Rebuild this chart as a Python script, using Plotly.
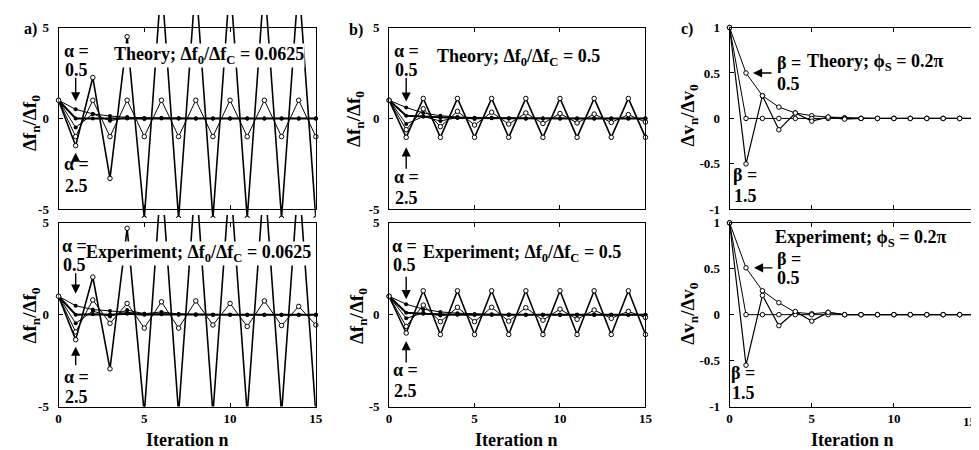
import plotly.graph_objects as go

W, H = 979, 450
FONT = "Liberation Serif"

ITER = list(range(16))

# a) theory, Δf0/ΔfC = 0.0625, alpha = 0.5 ... 2.5
A_TH_05 = [1, 0.5, 0.25, 0.13, 0.06, 0.03, 0.02, 0.01, 0, 0, 0, 0, 0, 0, 0, 0]
A_TH_10 = [1, 0, 0, 0, 0, 0, 0, 0, 0, 0, 0, 0, 0, 0, 0, 0]
A_TH_15 = [1, -0.5, 0.25, -0.13, 0.06, -0.03, 0.02, -0.01, 0, 0, 0, 0, 0, 0, 0, 0]
A_TH_20 = [1, -1, 1, -1, 1, -1, 1, -1, 1, -1, 1, -1, 1, -1, 1, -1]
A_TH_25 = [1, -1.5, 2.25, -3.3, 4.5, -5.5, 7.6, -5.5, 7.6, -5.5, 7.6, -5.5, 7.6, -5.5, 7.6, -5.5]

# a) experiment
A_EX_05 = [1, 0.49, 0.28, 0.2, 0.1, 0.05, 0.03, 0.02, 0, 0, 0, 0, 0, 0, 0, 0]
A_EX_10 = [1, 0, 0.02, 0, 0.05, 0, 0.02, 0, 0, 0, 0, 0, 0, 0, 0, 0]
A_EX_15 = [1, -0.47, 0.2, -0.1, 0.25, 0.05, 0.15, 0.03, 0.02, 0, 0, 0, 0, 0, 0, 0]
A_EX_20 = [1, -0.94, 0.8, -0.47, 0.61, -0.73, 0.7, -0.73, 0.75, -0.56, 0.61, -0.64, 0.75, -0.59, 0.45, -0.56]
A_EX_25 = [1, -1.36, 2.05, -2.95, 4.7, -5.4, 7.6, -5.4, 7.6, -5.4, 7.6, -5.4, 7.6, -5.4, 7.6, -5.4]

# b) theory, Δf0/ΔfC = 0.5
B_TH_05 = [1, 0.6, 0.3, 0.15, 0.08, 0.04, 0.02, 0.01, 0, 0, 0, 0, 0, 0, 0, 0]
B_TH_10 = [1, 0.15, 0.1, 0.05, 0.03, 0.02, 0.01, 0, 0, 0, 0, 0, 0, 0, 0, 0]
B_TH_15 = [1, -0.3, 0.1, -0.14, 0.05, -0.03, 0.02, -0.01, 0, 0, 0, 0, 0, 0, 0, 0]
B_TH_20 = [1, -0.62, 0.53, -0.45, 0.39, -0.36, 0.34, -0.31, 0.3, -0.28, 0.27, -0.25, 0.24, -0.22, 0.21, -0.2]
B_TH_25 = [1, -1.04, 1.1, -1.04, 1.1, -1.04, 1.1, -1.04, 1.1, -1.04, 1.1, -1.04, 1.1, -1.04, 1.1, -1.04]

# b) experiment
B_EX_05 = [1, 0.57, 0.3, 0.15, 0.08, 0.04, 0.02, 0.01, 0, 0, 0, 0, 0, 0, 0, 0]
B_EX_10 = [1, 0.1, 0.05, 0.02, 0, 0, 0, 0, 0, 0, 0, 0, 0, 0, 0, 0]
B_EX_15 = [1, -0.2, 0.1, -0.05, 0.02, 0, 0, 0, 0, 0, 0, 0, 0, 0, 0, 0]
B_EX_20 = [1, -0.64, 0.52, -0.38, 0.4, -0.38, 0.4, -0.35, 0.38, -0.3, 0.3, -0.25, 0.25, -0.2, 0.18, -0.15]
B_EX_25 = [1, -1.0, 1.3, -1.08, 1.3, -1.08, 1.3, -1.08, 1.3, -1.08, 1.3, -1.08, 1.3, -1.08, 1.3, -1.08]

# c) theory, phiS = 0.2 pi, beta = 0.5, 1.0, 1.5
C_TH_05 = [1, 0.5, 0.25, 0.125, 0.06, 0.03, 0.015, 0.008, 0, 0, 0, 0, 0, 0, 0, 0]
C_TH_10 = [1, 0, 0, 0, 0, 0, 0, 0, 0, 0, 0, 0, 0, 0, 0, 0]
C_TH_15 = [1, -0.5, 0.25, -0.125, 0.06, -0.03, 0.015, -0.008, 0, 0, 0, 0, 0, 0, 0, 0]

# c) experiment
C_EX_05 = [1, 0.51, 0.26, 0.13, 0.025, 0.01, 0.025, 0, 0, 0, 0, 0, 0, 0, 0, 0]
C_EX_10 = [1, 0, 0, 0, 0, 0, 0, 0, 0, 0, 0, 0, 0, 0, 0, 0]
C_EX_15 = [1, -0.55, 0.21, -0.12, 0.035, -0.07, 0.025, 0, 0, 0, 0, 0, 0, 0, 0, 0]

X_TICKS = [0, 5, 10, 15]
X_TICK_TEXT = ["0", "5", "10", "15"]
F_TICKS = [-5, 0, 5]
F_TICK_TEXT = ["-5", "0", "5"]
V_TICKS = [-1, -0.5, 0, 0.5, 1]
V_TICK_TEXT = ["-1", "-0.5", "0", "0.5", "1"]

# frame positions in pixels
COL_PX = [(48, 308), (382, 641), (726, 975)]
ROW_PX = [(13, 201), (215, 405)]
# the diverging alpha = 2.5 curve in a) runs past the frame, as in the print
OVERFLOW_PX = [(0, 210), (207, 405)]

# (width, filled) for alpha = 0.5, 1.0, 1.5, 2.0, 2.5
ALPHA_STYLE = [(1, True), (2, True), (1, True), (1, False), (1.6, False)]
BETA_STYLE = [(1, False), (1, False), (1.2, False)]


def fx(px):
    return px / W


def fy(py):
    return 1 - py / H


def add_curve(fig, xa, ya, values, width, filled, clip=False):
    if filled:
        marker = dict(symbol="circle", size=4, color="black")
    else:
        marker = dict(symbol="circle", size=4.5, color="white", line=dict(color="black", width=1))
    fig.add_trace(
        go.Scatter(
            x=ITER,
            y=values,
            mode="lines+markers",
            line=dict(color="black", width=width),
            marker=marker,
            xaxis=xa,
            yaxis=ya,
            showlegend=False,
            cliponaxis=clip,
        )
    )


fig = go.Figure()

panels = [
    (0, 0, [A_TH_05, A_TH_10, A_TH_15, A_TH_20, A_TH_25], ALPHA_STYLE),
    (0, 1, [B_TH_05, B_TH_10, B_TH_15, B_TH_20, B_TH_25], ALPHA_STYLE),
    (0, 2, [C_TH_05, C_TH_10, C_TH_15], BETA_STYLE),
    (1, 0, [A_EX_05, A_EX_10, A_EX_15, A_EX_20, A_EX_25], ALPHA_STYLE),
    (1, 1, [B_EX_05, B_EX_10, B_EX_15, B_EX_20, B_EX_25], ALPHA_STYLE),
    (1, 2, [C_EX_05, C_EX_10, C_EX_15], BETA_STYLE),
]

tickfont = dict(family=FONT, size=13, color="black", weight="bold")
layout_axes = {}

for row, col, series, styles in panels:
    k = row * 3 + col + 1
    xa = "x" if k == 1 else f"x{k}"
    ya = "y" if k == 1 else f"y{k}"
    x0, x1 = COL_PX[col]
    y0, y1 = ROW_PX[row]
    is_v = col == 2
    for i, (vals, (w, filled)) in enumerate(zip(series, styles)):
        if col == 0 and i == 4:
            n = 7 + row
            add_curve(fig, f"x{n}", f"y{n}", vals, w, filled, clip=True)
        else:
            add_curve(fig, xa, ya, vals, w, filled)

    # last label of panel c sits on the page edge; it is placed separately
    xtext = X_TICK_TEXT[:-1] + [""] if is_v else X_TICK_TEXT
    layout_axes["xaxis" if k == 1 else f"xaxis{k}"] = dict(
        domain=[fx(x0), fx(x1)],
        range=[0, 15],
        anchor=ya,
        showline=True,
        linecolor="black",
        linewidth=1,
        mirror="allticks",
        ticks="inside",
        ticklen=4,
        tickcolor="black",
        tickvals=X_TICKS,
        ticktext=xtext,
        showticklabels=(row == 1),
        tickfont=tickfont,
        showgrid=False,
        zeroline=False,
    )
    layout_axes["yaxis" if k == 1 else f"yaxis{k}"] = dict(
        domain=[fy(y1), fy(y0)],
        range=[-1, 1] if is_v else [-5, 5],
        anchor=xa,
        showline=True,
        linecolor="black",
        linewidth=1,
        mirror="allticks",
        ticks="inside",
        ticklen=4,
        tickcolor="black",
        tickvals=V_TICKS if is_v else F_TICKS,
        ticktext=V_TICK_TEXT if is_v else F_TICK_TEXT,
        tickfont=tickfont,
        ticklabelstandoff=6,
        showgrid=False,
        zeroline=False,
    )

# hidden axes for panel a: same scale as the framed axis, taller clip area
for row in (0, 1):
    n = 7 + row
    x0, x1 = COL_PX[0]
    y0, y1 = ROW_PX[row]
    o0, o1 = OVERFLOW_PX[row]
    scale = (y1 - y0) / 10.0
    layout_axes[f"xaxis{n}"] = dict(
        domain=[fx(x0), fx(x1)], range=[0, 15], anchor=f"y{n}", visible=False,
        showgrid=False, zeroline=False,
    )
    layout_axes[f"yaxis{n}"] = dict(
        domain=[fy(o1), fy(o0)],
        range=[-5 - (o1 - y1) / scale, 5 + (y0 - o0) / scale],
        anchor=f"x{n}", visible=False, showgrid=False, zeroline=False,
    )

fig.update_layout(**layout_axes)

annotations = []


def text(px, py, s, size=18, bg=None, angle=0):
    annotations.append(
        dict(
            x=fx(px), y=fy(py), xref="paper", yref="paper",
            text=s, showarrow=False, xanchor="center", yanchor="middle",
            font=dict(family=FONT, size=size, color="black", weight="bold"),
            bgcolor=bg, borderpad=0, textangle=angle,
        )
    )


def arrow(xa, ya, x, y, ax, ay, standoff):
    annotations.append(
        dict(
            x=x, y=y, xref=xa, yref=ya, text="", showarrow=True,
            ax=ax, ay=ay, standoff=standoff, arrowhead=2, arrowsize=1.3,
            arrowwidth=1.4, arrowcolor="black",
        )
    )


# panel letters
text(20, 15, "a)", size=16)
text(349, 16, "b)", size=16)
text(683, 15, "c)", size=16)

# in-plot labels (white boxes hide the curves behind them)
fdf = "Δf<sub>0</sub>/Δf<sub>C</sub>"
text(200, 42, f"Theory; {fdf} = 0.0625", bg="white")
text(189, 247, f"Experiment; {fdf} = 0.0625", bg="white")
text(513, 44, f"Theory; {fdf} = 0.5", bg="white")
text(516, 247, f"Experiment; {fdf} = 0.5", bg="white")
text(873, 49, "Theory; ϕ<sub>S</sub> = 0.2π")
text(858, 231, "Experiment; ϕ<sub>S</sub> = 0.2π")

# alpha / beta labels, one line each
for px, py_top, py_bot, val, sym in [
    (66, 37, 57, "0.5", "α"),
    (66, 154, 177, "2.5", "α"),
    (64, 239, 259, "0.5", "α"),
    (66, 374, 395, "2.5", "α"),
    (400, 37, 57, "0.5", "α"),
    (400, 168, 189, "2.5", "α"),
    (398, 239, 259, "0.5", "α"),
    (399, 367, 389, "2.5", "α"),
    (786, 50, 71, "0.5", "β"),
    (742, 166, 187, "1.5", "β"),
    (786, 252, 272, "0.5", "β"),
    (740, 370, 391, "1.5", "β"),
]:
    text(px, py_top, f"{sym} =")
    text(px, py_bot, val)

arrow("x", "y", 1, A_TH_05[1], 0, -33, 8)
arrow("x", "y", 1, A_TH_25[1], 0, 14, 7)
arrow("x4", "y4", 1, A_EX_05[1], 0, -34, 12)
arrow("x4", "y4", 1, A_EX_25[1], 0, 27, 7)
arrow("x2", "y2", 1, B_TH_05[1], 0, -31, 6)
arrow("x2", "y2", 1, B_TH_25[1], 0, 33, 10)
arrow("x5", "y5", 1, B_EX_05[1], 0, -29, 5)
arrow("x5", "y5", 1, B_EX_25[1], 0, 31, 8)
arrow("x3", "y3", 1, C_TH_05[1], 27, 0, 7)
arrow("x6", "y6", 1, C_EX_05[1], 28, 0, 8)

# axis titles
fn = "Δf<sub>n</sub>/Δf<sub>0</sub>"
vn = "Δv<sub>n</sub>/Δv<sub>0</sub>"
text(20, 112, fn, size=19, angle=-90)
text(20, 311, fn, size=19, angle=-90)
text(348, 107, fn, size=19, angle=-90)
text(350, 311, fn, size=19, angle=-90)
text(685, 104, vn, size=19, angle=-90)
text(685, 309, vn, size=19, angle=-90)
for cx in (178, 511, 850):
    text(cx, 440, "Iteration n", size=18)
text(969, 420, X_TICK_TEXT[-1], size=13)

fig.update_layout(
    width=W,
    height=H,
    margin=dict(l=0, r=0, t=0, b=0),
    paper_bgcolor="white",
    plot_bgcolor="rgba(0,0,0,0)",
    showlegend=False,
    annotations=annotations,
    font=dict(family=FONT, color="black"),
)

fig.write_html("out.html")
